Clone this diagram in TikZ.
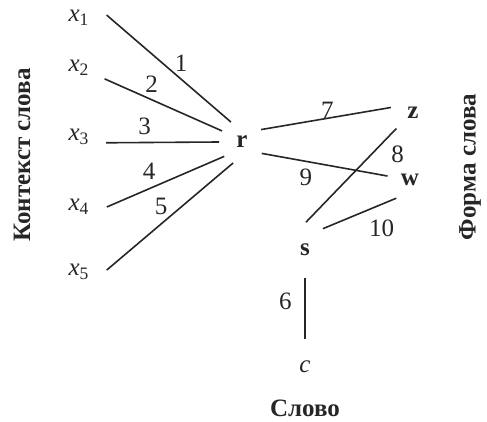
\documentclass[tikz,border=0pt]{standalone}
\usepackage{fontspec}
\setmainfont{Liberation Serif}
\usepackage{tikz}
\usetikzlibrary{positioning}

\begin{document}
\begin{tikzpicture}[x=0.5pt,y=-0.5pt,line width=0.8pt,draw=black!85,text=black!85,
        font=\fontsize{12.5pt}{15pt}\selectfont]
        \tikzstyle{word} = [circle, inner sep=0pt, minimum size=27pt]
        \tikzstyle{hub} = [circle, inner sep=0pt, minimum size=22pt]
        \tikzstyle{side} = [font=\fontsize{12.5pt}{15pt}\selectfont\bfseries]

        \useasboundingbox (0,0) rectangle (487,422);

        % Nodes
        \node[word] (x1) at (79,18) {\textit{x}\textsubscript{1}};
        \node[word] (x2) at (79,68) {\textit{x}\textsubscript{2}};
        \node[word] (x3) at (79,137) {\textit{x}\textsubscript{3}};
        \node[word] (x4) at (79,207) {\textit{x}\textsubscript{4}};
        \node[word] (x5) at (79,272) {\textit{x}\textsubscript{5}};
        \node[hub] (r) at (242,142) {\textbf{r}};
        \node[hub] (z) at (413,113) {\textbf{z}};
        \node[hub] (w) at (410,180) {\textbf{w}};
        \node[word] (s) at (305,250) {\textbf{s}};
        \node[word] (c) at (305,367) {\textit{c}};

        \node[side, rotate=90] (context) at (22,155) {Контекст слова};
        \node[side, rotate=90] (form) at (470,167) {Форма слова};
        \node[side] (slovo) at (305,408) {Слово};

        % Edges
        \path (x1.6) edge node[pos=0.6, above] {1} (r.119);
        \path (x2.-23) edge node[pos=0.4, above] {2} (r.151);
        \path (x3.-12) edge node[pos=0.34, above] {3} (r.180);
        \path (x4.0) edge node[pos=0.36, above=1pt] {4} (r.219);
        \path (x5.4) edge node[pos=0.43, above=1pt] {5} (r.247);
        \path (r.33) edge node[pos=0.51, above=-4pt] {7} (z.166);
        \path (r.330) edge node[pos=0.35, below] {9} (w.170);
        \path (s.88) edge node[pos=0.73, right=6pt] {8} (z.223);
        \path (s.50) edge node[pos=0.8, below=4pt] {10} (w.233);
        \path (s.270) edge node[pos=0.39, left=3pt] {6} (c.90);
    \end{tikzpicture}
\end{document}
